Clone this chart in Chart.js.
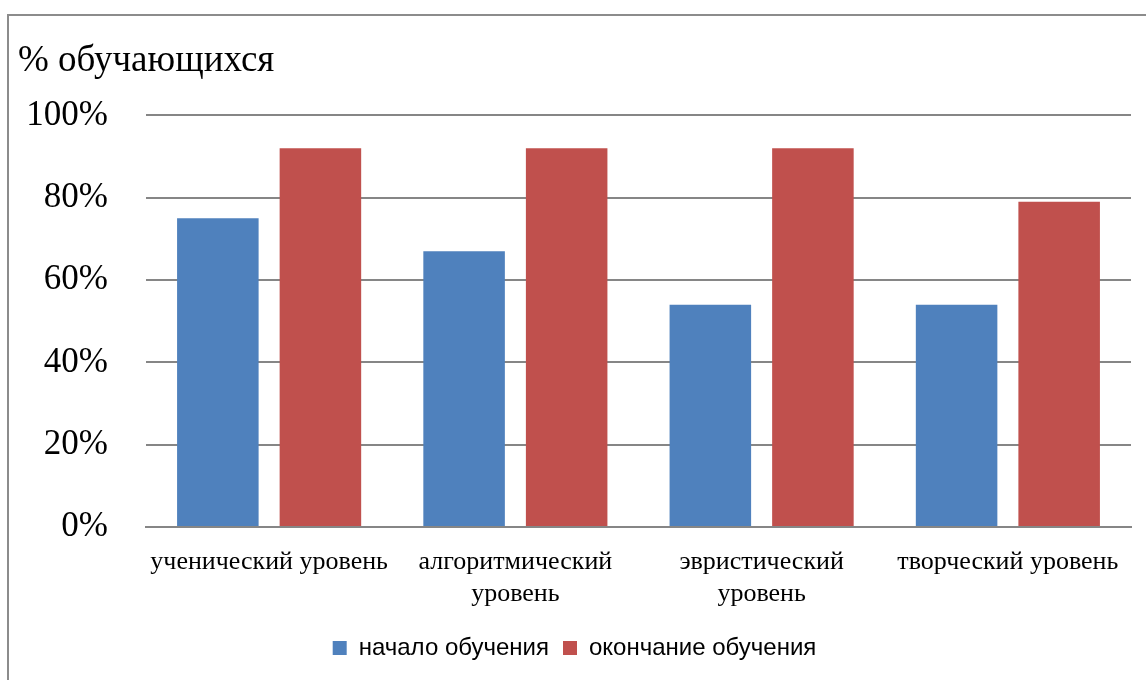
<!DOCTYPE html>
<html>
<head>
<meta charset="utf-8">
<script src="https://cdn.jsdelivr.net/npm/chart.js@4/dist/chart.umd.min.js"></script>
<style>
  html, body { margin: 0; padding: 0; background: #fff; overflow: hidden; }
  #frame { position: absolute; left: 7px; top: 14px; width: 1200px; height: 720px; border: 2px solid #8c8c8c; box-sizing: border-box; }
  #wrap { position: absolute; left: 0; top: 0; width: 1146px; height: 680px; }
</style>
</head>
<body>
<div id="frame"></div>
<div id="wrap"><canvas id="chart"></canvas></div>
<script>
// ── Data ──
const CATEGORIES = [
  'ученический уровень',
  ['алгоритмический', 'уровень'],
  ['эвристический', 'уровень'],
  'творческий уровень',
];
const START_VALUES = [75, 67, 54, 54];
const END_VALUES = [92, 92, 92, 79];
const SERIES_NAMES = ['начало обучения', 'окончание обучения'];
const Y_TICKS = [0, 20, 40, 60, 80, 100];

const BLUE = '#4f81bd';
const RED = '#c0504d';
const GRID = '#868686';
const SERIF = '"Liberation Serif", "Times New Roman", serif';

new Chart(document.getElementById('chart'), {
  type: 'bar',
  data: {
    labels: CATEGORIES,
    datasets: [
      { label: SERIES_NAMES[0], data: START_VALUES, backgroundColor: BLUE },
      { label: SERIES_NAMES[1], data: END_VALUES, backgroundColor: RED },
    ],
  },
  options: {
    responsive: true, maintainAspectRatio: false, animation: false,
    datasets: { bar: { categoryPercentage: 0.833, barPercentage: 0.795 } },
    layout: { padding: { left: 18, right: 15, top: 0, bottom: 10 } },
    plugins: {
      tooltip: { enabled: false },
      title: {
        display: true, text: '% обучающихся', align: 'start', color: '#000',
        font: { family: SERIF, size: 37, weight: 'normal' },
        padding: { top: 39, bottom: 32 },
      },
      legend: {
        position: 'bottom',
        labels: {
          color: '#000', boxWidth: 14, boxHeight: 14, padding: 14,
          font: { family: '"Liberation Sans", Arial, sans-serif', size: 24 },
        },
      },
    },
    scales: {
      x: {
        grid: { display: false },
        border: { color: GRID, width: 2 },
        ticks: {
          color: '#000', padding: 12, maxRotation: 0, autoSkip: false,
          font: { family: SERIF, size: 26, lineHeight: 1.2 },
        },
        afterFit: s => { s.height = 95; },
      },
      y: {
        min: 0, max: 100,
        afterBuildTicks: s => { s.ticks = Y_TICKS.map(v => ({ value: v })); },
        grid: { color: GRID, lineWidth: 2, drawTicks: false },
        border: { display: false },
        ticks: {
          color: '#000', padding: 38,
          font: { family: SERIF, size: 35 },
          callback: v => v + '%',
        },
        afterFit: s => { s.width = 128; },
      },
    },
  },
});
</script>
</body>
</html>
